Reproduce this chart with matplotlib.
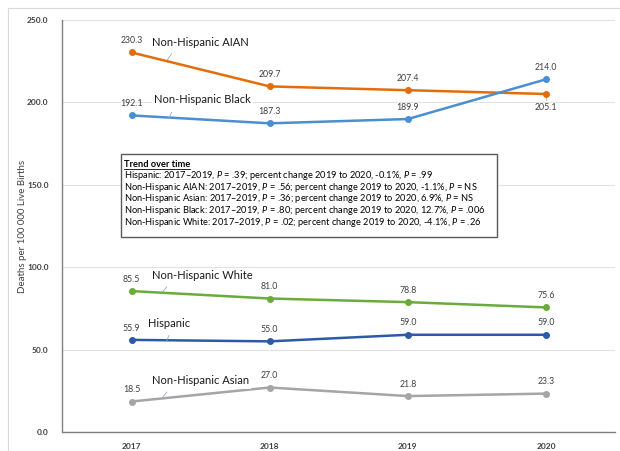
import matplotlib
matplotlib.use("Agg")
import matplotlib.pyplot as plt
from matplotlib.patches import Rectangle
import matplotlib.lines as mlines

plt.rcParams['font.family'] = ['Lato', 'DejaVu Sans']
plt.rcParams['mathtext.fontset'] = 'custom'
plt.rcParams['mathtext.it'] = 'Lato:italic'
plt.rcParams['mathtext.rm'] = 'Lato'

years = ["2017", "2018", "2019", "2020"]
aian = [230.3, 209.7, 207.4, 205.1]
black = [192.1, 187.3, 189.9, 214.0]
white = [85.5, 81.0, 78.8, 75.6]
hispanic = [55.9, 55.0, 59.0, 59.0]
asian = [18.5, 27.0, 21.8, 23.3]

series_names = ["Non-Hispanic AIAN", "Non-Hispanic Black", "Non-Hispanic White",
                "Hispanic", "Non-Hispanic Asian"]
series_vals = [aian, black, white, hispanic, asian]
colors = ["#E46C0A", "#4A8FD0", "#6AAB3A", "#2C5AA8", "#A5A5A5"]
yticks = [0, 50, 100, 150, 200, 250]

trend_title = "Trend over time"
trend_lines = [
    "Hispanic: 2017\u20132019, $P$ = .39; percent change 2019 to 2020, -0.1%, $P$ = .99",
    "Non-Hispanic AIAN: 2017\u20132019, $P$ = .56; percent change 2019 to 2020, -1.1%, $P$ = NS",
    "Non-Hispanic Asian: 2017\u20132019, $P$ = .36; percent change 2019 to 2020, 6.9%, $P$ = NS",
    "Non-Hispanic Black: 2017\u20132019, $P$ = .80; percent change 2019 to 2020, 12.7%, $P$ = .006",
    "Non-Hispanic White: 2017\u20132019, $P$ = .02; percent change 2019 to 2020, -4.1%, $P$ = .26",
]

fig = plt.figure(figsize=(6.2, 4.51), dpi=100)
# outer chart frame
fig.patches.append(Rectangle((8/620, -0.01), 1.0, 1 - 8/451 + 0.01, transform=fig.transFigure,
                             fill=False, edgecolor="#D9D9D9", lw=0.8))
ax = fig.add_axes([62.5/620, 1 - 432/451, (615 - 62.5)/620, (432 - 20)/451])

x = list(range(len(years)))
for vals, c in zip(series_vals, colors):
    ax.plot(x, vals, color=c, lw=1.8, marker='o', ms=4, zorder=3)

ax.set_xlim(-0.5, 3.5)
ax.set_ylim(0, 250)
ax.set_yticks(yticks)
ax.set_yticklabels([f"{v:.1f}" for v in yticks], fontsize=6, fontweight='bold', color="#404040")
ax.set_xticks(x)
ax.set_xticklabels(years, fontsize=6, fontweight='bold', color="#404040")
ax.tick_params(length=0, pad=8)
ax.tick_params(axis='y', pad=10)
ax.grid(axis='y', color="#E3E3E3", lw=0.8)
ax.set_axisbelow(True)
for s in ["top", "right"]:
    ax.spines[s].set_visible(False)
for s in ["left", "bottom"]:
    ax.spines[s].set_color("#808080")
    ax.spines[s].set_linewidth(1.0)
ax.set_ylabel("Deaths per 100 000 Live Births", fontsize=7, color="#404040", labelpad=0)

# data labels
for si, vals in enumerate(series_vals):
    for i, v in enumerate(vals):
        dy = 8.5
        if si == 0 and i == 3:
            dy = -9.5
        ax.annotate(f"{v:.1f}", (i, v), xytext=(0, dy), textcoords="offset points",
                    ha='center', va='center', fontsize=6.3, color="#404040", zorder=4)
ax.plot([3, 3], [203.5, 201.5], color="#BFBFBF", lw=0.6)

# series labels with leader lines
lab_pos = [(0.145, 236.6), (0.165, 201.5), (0.15, 94.7), (0.12, 66.1), (0.145, 31.0)]
lead = [((0.26, 226.0), (0.29, 229.6)), ((0.27, 190.5), (0.29, 194.0)),
        ((0.225, 85.0), (0.255, 88.0)), ((0.255, 55.5), (0.27, 58.5)),
        ((0.225, 21.2), (0.255, 24.2))]
for name, (lx, ly), (p0, p1) in zip(series_names, lab_pos, lead):
    ax.text(lx, ly, name, fontsize=8.0, color="#1a1a1a", ha='left', va='center', zorder=5,
            bbox=dict(boxstyle="square,pad=0.2", fc="white", ec="none"))
    ax.plot([p0[0], p1[0]], [p0[1], p1[1]], color="#8FAADC", lw=0.6, zorder=5)

# trend box
ax.add_patch(Rectangle((-0.08, 118.5), 2.725, 50.0, facecolor="white", edgecolor="#595959",
                       lw=1.0, zorder=6))
tx = -0.055
t = ax.text(tx, 162.3, trend_title, fontsize=6.7, fontweight='bold', color="#000000",
            ha='left', va='center', zorder=7)
ys = [155.8, 148.6, 141.4, 134.2, 127.0]
for s, yy in zip(trend_lines, ys):
    ax.text(tx, yy, s, fontsize=6.7, color="#000000", ha='left', va='center', zorder=7)

fig.canvas.draw()
bb = t.get_window_extent()
inv = fig.transFigure.inverted()
(x0, y0), (x1, y1) = inv.transform([(bb.x0, bb.y0), (bb.x1, bb.y0)])
fig.add_artist(mlines.Line2D([x0, x1], [y0 + 0.001, y0 + 0.001], color="black", lw=0.6,
                             transform=fig.transFigure, zorder=8))

fig.savefig("out.png", dpi=100)
